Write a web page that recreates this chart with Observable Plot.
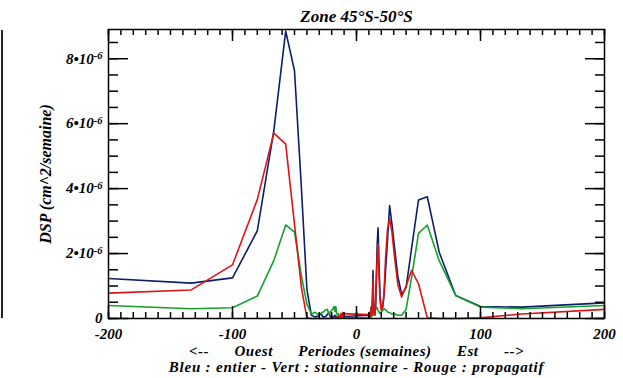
<!DOCTYPE html>
<html><head><meta charset="utf-8">
<script src="https://cdn.jsdelivr.net/npm/d3@7"></script>
<script src="https://cdn.jsdelivr.net/npm/@observablehq/plot@0.6"></script>
<style>
body{margin:0;background:#fff;}
#wrap{position:relative;width:623px;height:378px;}
#edge{position:absolute;left:1px;top:30px;width:2px;height:288px;background:#222;}
</style></head><body><div id="wrap"><div id="edge"></div></div>
<script>
// Periods (weeks): West (negative) and East (positive)
const periodesOuest = [-200, -133.3, -100, -80, -66.7, -57.1, -50, -44.4, -40, -36.4,
  -33.3, -30.8, -28.6, -26.7, -25, -23.5, -22.2, -21.1, -20, -19,
  -18.2, -17.4, -16.7, -16, -15.4, -14.8, -14.3, -13.8, -13.3, -12.9,
  -12.5, -12.1, -11.8, -11.4, -11.1, -10.8, -10.5, -10.3, -10];
const periodesEst = [10, 10.3, 10.5, 10.8, 11.1, 11.4, 11.8, 12.1, 12.5, 12.9,
  13.3, 13.8, 14.3, 14.8, 15.4, 16, 16.7, 17.4, 18.2, 19,
  20, 21.1, 22.2, 23.5, 25, 26.7, 28.6, 30.8, 33.3, 36.4,
  40, 44.4, 50, 57.1, 66.7, 80, 100, 133.3, 200];

// DSP values in units of 1e-6 cm^2/semaine
const bleuOuest = [1.23, 1.09, 1.25, 2.70, 5.78, 8.85, 7.63, 4.0, 0.9, 0.1,
  0.05, 0.08, 0.14, 0.04, 0.06, 0.12, 0.19, 0.05, 0.08, 0.03,
  0.06, 0.1, 0.04, 0.07, 0.03, 0.05, 0.02, 0.08, 0.04, 0.06,
  0.12, 0.05, 0.1, 0.16, 0.08, 0.12, 0.05, 0.1, 0.06];
const bleuEst = [0.1, 0.05, 0.15, 0.08, 0.2, 0.1, 0.35, 0.1, 0.2, 0.7,
  1.48, 0.5, 0.15, 0.12, 0.4, 1.3, 2.3, 2.79, 1.6, 0.7,
  0.3, 0.35, 0.7, 1.5, 2.4, 3.48, 2.9, 2.15, 1.3, 0.74,
  0.95, 2.15, 3.65, 3.75, 2.04, 0.71, 0.37, 0.35, 0.48];
const vertOuest = [0.40, 0.30, 0.33, 0.69, 1.78, 2.88, 2.66, 1.3, 0.45, 0.14,
  0.19, 0.12, 0.16, 0.2, 0.27, 0.28, 0.14, 0.2, 0.25, 0.3,
  0.37, 0.22, 0.37, 0.15, 0.12, 0.15, 0.08, 0.1, 0.06, 0.08,
  0.05, 0.06, 0.04, 0.05, 0.03, 0.04, 0.03, 0.03, 0.02];
const vertEst = [0.02, 0.02, 0.03, 0.03, 0.04, 0.05, 0.05, 0.06, 0.08, 0.1,
  0.1, 0.15, 0.2, 0.28, 0.35, 0.3, 0.33, 0.25, 0.2, 0.15,
  0.2, 0.25, 0.3, 0.27, 0.2, 0.18, 0.14, 0.14, 0.1, 0.1,
  0.28, 1.26, 2.62, 2.88, 1.78, 0.71, 0.35, 0.3, 0.4];
const rougeOuest = [0.78, 0.88, 1.65, 3.66, 5.71, 5.37, 2.9, 0.95, 0.02, 0,
  0, 0.01, 0, 0.01, 0, 0.01, 0, 0.01, 0.02, 0.01,
  0.02, 0.01, 0.03, 0.02, 0.05, 0.02, 0.08, 0.04, 0.1, 0.05,
  0.15, 0.06, 0.12, 0.08, 0.18, 0.05, 0.12, 0.07, 0.15];
const rougeEst = [0.12, 0.05, 0.15, 0.08, 0.2, 0.08, 0.3, 0.08, 0.15, 0.6,
  1.22, 0.4, 0.12, 0.1, 0.35, 1.1, 1.9, 2.3, 1.3, 0.55,
  0.25, 0.35, 0.8, 1.9, 2.75, 3.07, 2.65, 1.85, 1.05, 0.66,
  1.0, 1.48, 1.07, 0.02, 0, 0, 0.02, 0.14, 0.28];

const UNIT = 1e-6;
const xMajor = [-200, -100, 0, 100, 200];
const xMinor = d3.range(-200, 201, 10);
const yMajor = [0, 2, 4, 6, 8];
const yMinor = d3.range(0, 8.9, 0.5);
const yLabels = ["0", "2\u202210^-6", "4\u202210^-6", "6\u202210^-6", "8\u202210^-6"];

const titre = "Zone 45\u00b0S-50\u00b0S";
const labelY = "DSP (cm^2/semaine)";
const sp = "\u00a0\u00a0\u00a0\u00a0\u00a0\u00a0";
const legende1 = "<--" + sp + "Ouest" + sp + "Periodes (semaines)" + sp + "Est" + sp + "-->";
const legende2 = "Bleu : entier - Vert : stationnaire - Rouge : propagatif";

const W = 623, H = 378, ML = 108, MR = 19, MT = 29, MB = 60;
const FW = W - ML - MR, FH = H - MT - MB;

const periodes = periodesOuest.concat(periodesEst);
const rows = s => periodes.map((p, i) => ({p, v: s[i] * UNIT}));
const bleu = rows(bleuOuest.concat(bleuEst));
const vert = rows(vertOuest.concat(vertEst));
const rouge = rows(rougeOuest.concat(rougeEst));
const yLabelMap = new Map(yMajor.map((v, i) => [v, yLabels[i]]));

const tickStyle = {stroke: "black", strokeWidth: 1.5};
const plot = Plot.plot({
  width: W, height: H,
  marginLeft: ML, marginRight: MR, marginTop: MT, marginBottom: MB,
  style: {fontSize: "15px", background: "white", color: "black"},
  x: {domain: [-200, 200], ticks: xMajor, tickSize: 0, tickPadding: 10, tickFormat: d => String(d), label: null},
  y: {domain: [0, 8.9 * UNIT], ticks: yMajor.map(v => v * UNIT), tickSize: 0, tickPadding: 6,
      tickFormat: d => yLabelMap.get(Math.round(d / UNIT)), label: null},
  marks: [
    Plot.line(bleu, {x: "p", y: "v", stroke: "#0c1f6a", strokeWidth: 1.6}),
    Plot.line(vert, {x: "p", y: "v", stroke: "#16a02c", strokeWidth: 1.6}),
    Plot.line(rouge, {x: "p", y: "v", stroke: "#dc1414", strokeWidth: 1.6}),
    // inward ticks on all four sides
    Plot.tickX(xMajor, {x: d => d, insetTop: FH - 12, ...tickStyle}),
    Plot.tickX(xMinor, {x: d => d, insetTop: FH - 6, ...tickStyle}),
    Plot.tickX(xMajor, {x: d => d, insetBottom: FH - 12, ...tickStyle}),
    Plot.tickX(xMinor, {x: d => d, insetBottom: FH - 6, ...tickStyle}),
    Plot.tickY(yMajor, {y: d => d * UNIT, insetRight: FW - 20, ...tickStyle}),
    Plot.tickY(yMinor, {y: d => d * UNIT, insetRight: FW - 10, ...tickStyle}),
    Plot.tickY(yMajor, {y: d => d * UNIT, insetLeft: FW - 19, ...tickStyle}),
    Plot.tickY(yMinor, {y: d => d * UNIT, insetLeft: FW - 9, ...tickStyle}),
    Plot.frame({stroke: "black", strokeWidth: 1.5}),
    Plot.text([titre], {frameAnchor: "top", dy: -13, lineAnchor: "middle", fontSize: 17}),
    Plot.text([labelY], {frameAnchor: "left", dx: -63, rotate: -90, textAnchor: "middle", fontSize: 16}),
    Plot.text([legende1], {frameAnchor: "bottom", dy: 33, lineAnchor: "middle", fontSize: 15}),
    Plot.text([legende2], {frameAnchor: "bottom", dy: 49, lineAnchor: "middle", fontSize: 15})
  ]
});

plot.querySelectorAll("text").forEach(t => {
  t.style.fontFamily = "'Liberation Serif', 'DejaVu Serif', serif";
  t.style.fontStyle = "italic";
  t.style.fontWeight = "bold";
  if (t.textContent === legende2) t.style.letterSpacing = "0.8px";
  if (t.textContent === legende1) t.style.letterSpacing = "0.5px";
  if (t.textContent.includes("^-")) {
    const [base, exp] = t.textContent.split("^");
    t.textContent = base;
    const ts = document.createElementNS("http://www.w3.org/2000/svg", "tspan");
    ts.setAttribute("dy", "-0.45em");
    ts.setAttribute("font-size", "70%");
    ts.textContent = exp;
    t.appendChild(ts);
  }
});
document.getElementById("wrap").appendChild(plot);
</script></body></html>
